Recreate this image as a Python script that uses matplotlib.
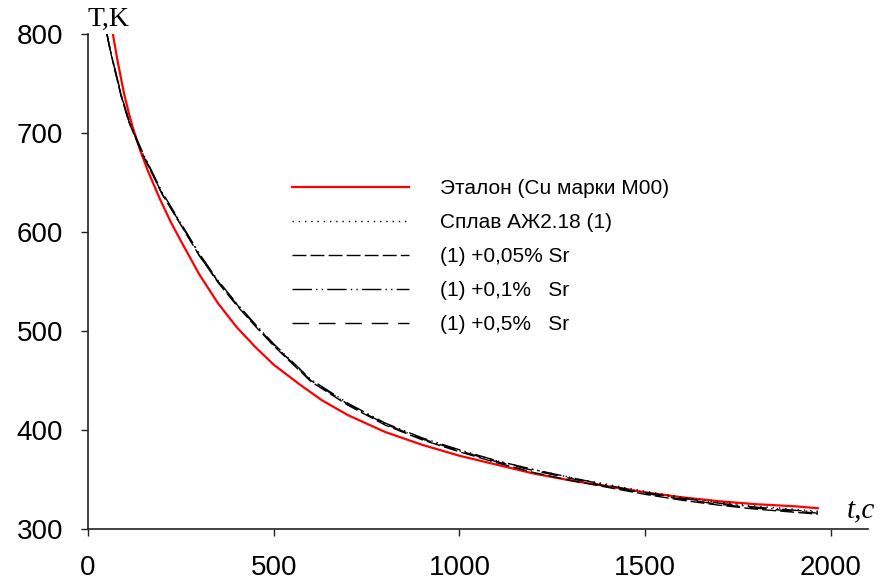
import matplotlib
matplotlib.use('Agg')
import matplotlib.pyplot as plt

plt.rcParams['font.family'] = ['Liberation Sans', 'DejaVu Sans']

# cooling curves, t in seconds, T in kelvin
T_REF = [67, 80, 97, 110, 121, 140, 161, 194, 223, 250, 300, 350, 400, 450, 500,
         570, 630, 700, 800, 900, 1000, 1100, 1200, 1300, 1400, 1500, 1600, 1700,
         1800, 1900, 1965]
REF = [800, 772, 740, 720, 705, 683, 662, 633, 610, 591, 557, 528, 504, 484, 466,
       446, 430, 415, 398, 385, 374, 365, 356, 349, 343, 337, 332, 328, 325, 323, 321]

T_ALLOY = [51, 60, 75, 90, 110, 130, 150, 175, 200, 250, 300, 350, 400, 450, 500,
           600, 700, 800, 900, 1000, 1100, 1200, 1300, 1400, 1500, 1600, 1700, 1800,
           1900, 1965]
ALLOY = [800, 784, 760, 737, 712, 694, 677, 658, 639, 608, 577, 550, 527, 506, 486,
         450, 426, 406, 391, 379, 369, 360, 352, 345, 338, 332, 327, 323, 320, 318]
SR005 = [800, 783, 759, 736, 711, 693, 676, 657, 638, 607, 576, 549, 526, 505, 485,
         449, 425, 405, 390, 378, 367, 357, 349, 342, 335, 329, 324, 320, 317, 315]
SR01 = [800, 784, 761, 738, 713, 695, 678, 659, 640, 609, 578, 551, 528, 507, 487,
        451, 427, 407, 392, 380, 369, 360, 352, 344, 337, 331, 326, 322, 319, 317]
SR05 = [800, 783, 760, 737, 712, 694, 677, 658, 638, 608, 576, 550, 527, 506, 486,
        450, 426, 406, 391, 379, 368, 359, 351, 343, 336, 330, 325, 321, 318, 316]

LABELS = ['Эталон (Cu марки М00)', 'Сплав АЖ2.18 (1)', '(1) +0,05% Sr',
          '(1) +0,1%   Sr', '(1) +0,5%   Sr']

fig = plt.figure(figsize=(8.81, 5.81), dpi=100)
ax = fig.add_axes([88 / 881, 52 / 581, 780 / 881, 495 / 581])

ax.plot(T_REF, REF, color='#ff0000', lw=1.6, label=LABELS[0])
ax.plot(T_ALLOY, ALLOY, color='black', lw=1.0, dashes=(1, 3.5), label=LABELS[1])
ax.plot(T_ALLOY, SR005, color='black', lw=1.0, dashes=(10, 3), label=LABELS[2])
ax.plot(T_ALLOY, SR01, color='black', lw=1.0, dashes=(14, 3, 1, 3, 1, 3), label=LABELS[3])
ax.plot(T_ALLOY, SR05, color='black', lw=1.0, dashes=(12, 7), label=LABELS[4])

ax.set_xlim(0, 2100)
ax.set_ylim(300, 800)
ax.set_xticks([0, 500, 1000, 1500, 2000])
ax.set_yticks([300, 400, 500, 600, 700, 800])
for s in ['top', 'right']:
    ax.spines[s].set_visible(False)
for s in ['left', 'bottom']:
    ax.spines[s].set_linewidth(1.2)
    ax.spines[s].set_color('#222222')
ax.tick_params(direction='out', length=5, width=1.0, color='#222222', labelsize=20)
ax.tick_params(axis='x', pad=14)
ax.tick_params(axis='y', pad=13)

leg = ax.legend(loc='upper left', bbox_to_anchor=(292 / 881, 1 - 179 / 581),
                bbox_transform=fig.transFigure, frameon=False, fontsize=15,
                handlelength=5.6, handletextpad=1.5, labelspacing=0.72,
                borderpad=0, borderaxespad=0)

fig.text(87 / 881, 1 - 26 / 581, 'T,K', family='Liberation Serif', fontsize=20,
         va='baseline', ha='left')
fig.text(847 / 881, 1 - 517 / 581, 't,c', family='Liberation Serif',
         style='italic', fontsize=21, va='baseline', ha='left')

fig.savefig('out.png', dpi=100)
